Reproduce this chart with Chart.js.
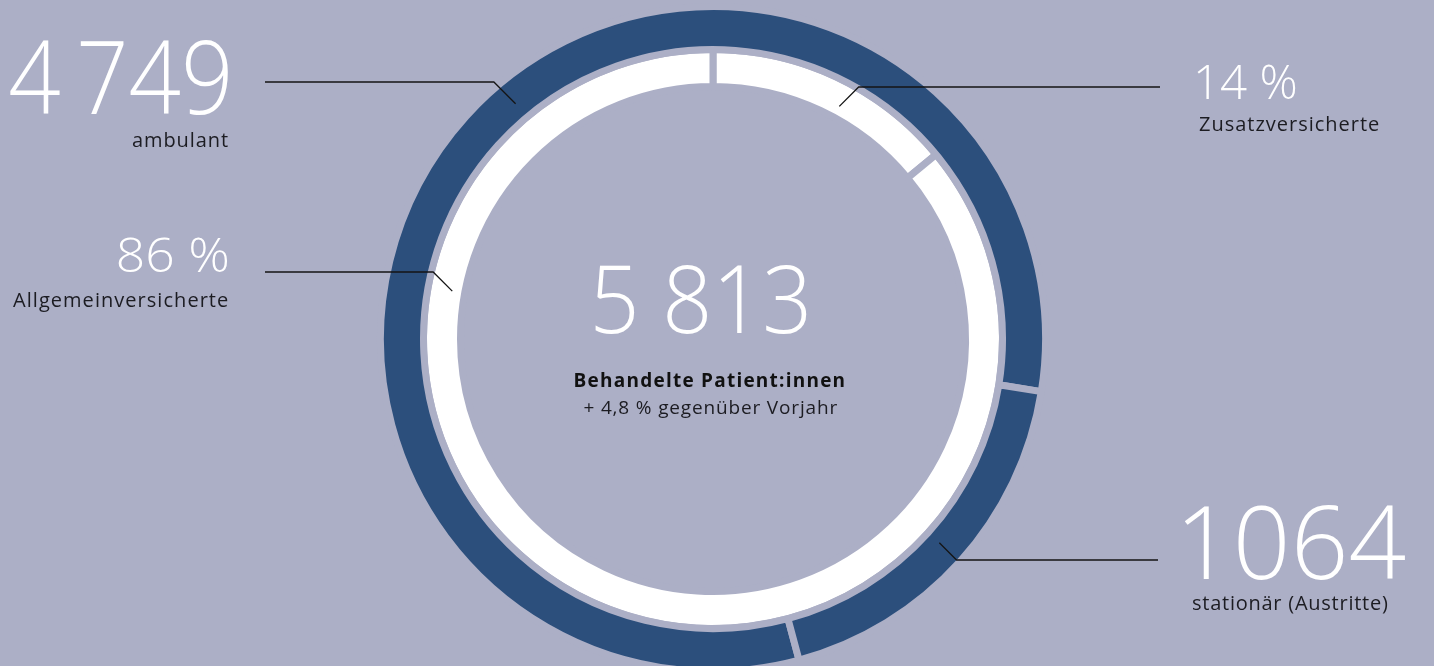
<!DOCTYPE html>
<html>
<head>
<meta charset="utf-8">
<script src="https://cdn.jsdelivr.net/npm/chart.js@4/dist/chart.umd.min.js"></script>
<style>
  html, body { margin: 0; padding: 0; background: #acafc6; }
  canvas { display: block; }
</style>
</head>
<body>
<canvas id="patients" width="1434" height="666"></canvas>
<script>
// treated patients, outer ring
const treatmentLabels = ['ambulant', 'stationär (Austritte)'];
const treatmentValues = [4749, 1064];
const treatmentValueText = ['4\u2009749', '1064'];
// insurance class, inner ring (percent)
const insuranceLabels = ['Zusatzversicherte', 'Allgemeinversicherte'];
const insuranceShares = [14, 86];
// change against previous year (percent)
const changeVsPrevYear = 4.8;
const centerTitle = 'Behandelte Patient:innen';

const bgColor = '#acafc6';
const darkBlue = '#2c4f7c';
const textDark = '#1c1c22';

const totalPatients = treatmentValues.reduce((a, b) => a + b, 0);
const fmtThousands = n => String(n).replace(/\B(?=(\d{3})+(?!\d))/g, ' ');
const fmtPercent = n => n + ' %';

// draw text so its ink starts/ends at x; optionally squeeze to an ink width
function drawInk(ctx, str, x, y, font, align, inkWidth, color) {
  ctx.save();
  ctx.font = font;
  ctx.textAlign = 'left';
  ctx.textBaseline = 'alphabetic';
  const m = ctx.measureText(str);
  const w = m.actualBoundingBoxLeft + m.actualBoundingBoxRight;
  const s = inkWidth ? inkWidth / w : 1;
  const left = align === 'right' ? x - w * s : align === 'center' ? x - w * s / 2 : x;
  ctx.translate(left, y);
  ctx.scale(s, 1);
  ctx.fillStyle = color;
  ctx.fillText(str, m.actualBoundingBoxLeft, 0);
  ctx.restore();
}

// draw text with letter spacing stretched to a given ink width
function drawSpaced(ctx, str, x, y, font, align, inkWidth, color) {
  ctx.save();
  ctx.font = font;
  ctx.letterSpacing = '0px';
  const m0 = ctx.measureText(str);
  const w0 = m0.actualBoundingBoxLeft + m0.actualBoundingBoxRight;
  const ls = Math.max(0, (inkWidth - w0) / (str.length - 1));
  ctx.letterSpacing = ls.toFixed(2) + 'px';
  const m = ctx.measureText(str);
  const w = m.actualBoundingBoxLeft + m.actualBoundingBoxRight - ls;
  const left = align === 'right' ? x - w : align === 'center' ? x - w / 2 : x;
  ctx.textAlign = 'left';
  ctx.fillStyle = color;
  ctx.fillText(str, left + m.actualBoundingBoxLeft, y);
  ctx.restore();
}

const numFont = size => '300 ' + size + 'px "Open Sans", Lato, sans-serif';
const labelFont = '400 20px "Open Sans", Lato, sans-serif';

// callout layout: which arc, where the leader touches it, where the texts sit
const callouts = [
  { ds: 0, idx: 0, angle: -130, frac: 0.41, lineY: 82, lineEnd: 265, side: 'left',
    numX: 228, numY: 114, numSize: 102, numW: 218, labX: 227, labY: 147, labW: 96 },
  { ds: 0, idx: 1, angle: 42, frac: 0.35, lineY: 560, lineEnd: 1158, side: 'right',
    numX: 1184, numY: 579, numSize: 102, numW: 221, labX: 1193, labY: 610, labW: 195 },
  { ds: 1, idx: 0, angle: -61.5, frac: 0.33, lineY: 87, lineEnd: 1160, side: 'right',
    numX: 1197, numY: 99, numSize: 48, numW: 99, labX: 1199, labY: 131, labW: 180 },
  { ds: 1, idx: 1, angle: -169.6, frac: 0.34, lineY: 272, lineEnd: 265, side: 'left',
    numX: 228, numY: 272, numSize: 48, numW: 110, labX: 227, labY: 307, labW: 215 }
];

const calloutPlugin = {
  id: 'callouts',
  beforeDraw(chart) {
    const ctx = chart.ctx;
    ctx.save();
    ctx.fillStyle = bgColor;
    ctx.fillRect(0, 0, chart.width, chart.height);
    ctx.restore();
  },
  afterDraw(chart) {
    const ctx = chart.ctx;
    callouts.forEach(c => {
      const arc = chart.getDatasetMeta(c.ds).data[c.idx];
      const r = arc.innerRadius + c.frac * (arc.outerRadius - arc.innerRadius);
      const a = c.angle * Math.PI / 180;
      const px = arc.x + Math.cos(a) * r;
      const py = arc.y + Math.sin(a) * r;
      const dir = c.side === 'left' ? -1 : 1;
      const elbowX = px + dir * Math.abs(c.lineY - py);
      ctx.save();
      ctx.strokeStyle = '#151515';
      ctx.lineWidth = 1.3;
      ctx.beginPath();
      ctx.moveTo(px, py);
      ctx.lineTo(elbowX, c.lineY);
      ctx.lineTo(c.lineEnd, c.lineY);
      ctx.stroke();
      ctx.restore();

      const numText = c.ds === 0 ? treatmentValueText[c.idx] : fmtPercent(insuranceShares[c.idx]);
      const label = c.ds === 0 ? treatmentLabels[c.idx] : insuranceLabels[c.idx];
      const align = c.side === 'left' ? 'right' : 'left';
      drawInk(ctx, numText, c.numX, c.numY, numFont(c.numSize), align, c.numW, '#ffffff');
      drawSpaced(ctx, label, c.labX, c.labY, labelFont, align, c.labW, textDark);
    });

    // centre texts
    const arc = chart.getDatasetMeta(0).data[0];
    const cx = arc.x, cy = arc.y;
    drawInk(ctx, fmtThousands(totalPatients), cx - 12, cy - 6, numFont(94), 'center', 212, '#ffffff');
    drawSpaced(ctx, centerTitle, cx - 4, cy + 48, '700 19px "Open Sans", Lato, sans-serif', 'center', 270, '#111111');
    const sub = '+ ' + String(changeVsPrevYear).replace('.', ',') + ' % gegenüber Vorjahr';
    drawSpaced(ctx, sub, cx - 3, cy + 75, '400 19px "Open Sans", Lato, sans-serif', 'center', 254, '#1c1c22');
  }
};

new Chart(document.getElementById('patients'), {
  type: 'doughnut',
  data: {
    datasets: [
      {
        label: 'Behandelte Patient:innen',
        data: treatmentValues,
        backgroundColor: darkBlue,
        borderColor: bgColor,
        borderWidth: 7,
        weight: 43,
        rotation: 165
      },
      {
        label: 'Versicherungsklasse',
        data: insuranceShares,
        backgroundColor: '#ffffff',
        borderColor: bgColor,
        borderWidth: 7,
        weight: 37,
        rotation: 0
      }
    ]
  },
  options: {
    responsive: false,
    animation: false,
    events: [],
    radius: 332.5,
    cutout: '75.94%',
    layout: { padding: { left: 0, right: 8, top: 12, bottom: 0 } },
    plugins: {
      legend: { display: false },
      tooltip: { enabled: false }
    }
  },
  plugins: [calloutPlugin]
});
</script>
</body>
</html>
